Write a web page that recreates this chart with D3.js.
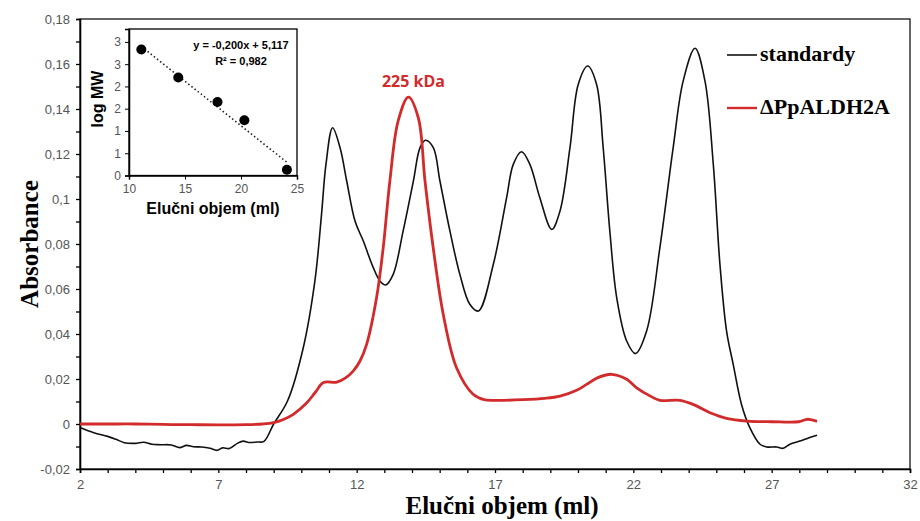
<!DOCTYPE html>
<html>
<head>
<meta charset="utf-8">
<script src="https://cdn.jsdelivr.net/npm/d3@7"></script>
<style>
body { margin: 0; background: #fff; }
svg { display: block; }
</style>
</head>
<body>
<div id="chart"></div>
<script>
// elution profile of the standards (black)
var stdVol = [2, 2.5, 3.0, 3.3, 3.6, 4.0, 4.3, 4.6, 4.9, 5.3, 5.6, 5.85, 6.1, 6.4, 6.7, 6.95, 7.15, 7.4, 7.7, 7.9, 8.1, 8.4, 8.65,
  9.0, 9.5, 10.07, 10.49, 10.73, 10.89, 11.13, 11.4, 11.64, 11.94, 12.24, 12.6, 12.84, 13.05, 13.32, 13.68, 14.05, 14.29, 14.49,
  14.77, 15.01, 15.37, 15.73, 16.09, 16.4, 16.94, 17.42, 17.66, 17.96, 18.26, 18.62, 19.05, 19.35, 19.71, 20.01, 20.35, 20.67,
  20.91, 21.15, 21.4, 21.76, 22.08, 22.48, 22.96, 23.44, 23.8, 24.23, 24.59, 24.89, 25.13, 25.37, 25.61, 25.91, 26.21, 26.58,
  26.82, 27.18, 27.42, 27.66, 28.02, 28.33, 28.64];
var stdAbs = [-0.0016, -0.0039, -0.0055, -0.0068, -0.0083, -0.0086, -0.0081, -0.009, -0.0092, -0.0093, -0.0105, -0.0095, -0.0101,
  -0.0102, -0.0108, -0.0117, -0.0106, -0.0109, -0.0085, -0.0076, -0.0082, -0.008, -0.0077,
  0.0, 0.0102, 0.0339, 0.0636, 0.0932, 0.1154, 0.1317, 0.1228, 0.108, 0.0902, 0.0813, 0.0695, 0.0636, 0.0618, 0.0665, 0.0858,
  0.108, 0.1228, 0.1261, 0.1228, 0.108, 0.0858, 0.0665, 0.0532, 0.0502, 0.071, 0.1006, 0.1154, 0.121, 0.1154, 0.1006, 0.0865,
  0.0947, 0.1228, 0.151, 0.1591, 0.151, 0.1228, 0.0858, 0.0561, 0.0369, 0.0313, 0.0413, 0.0784, 0.1228, 0.1524, 0.167, 0.1524,
  0.1154, 0.071, 0.0413, 0.0265, 0.0087, -0.0016, -0.009, -0.0102, -0.0102, -0.0108, -0.009, -0.0076, -0.0062, -0.005];

// elution profile of the sample (red)
var smpVol = [2, 3, 4, 5, 6, 7, 8, 8.6, 9.0, 9.35, 9.71, 10.19, 10.5, 10.8, 11.28, 11.6, 11.88, 12.12, 12.36, 12.72, 12.96, 13.2,
  13.5, 13.87, 14.23, 14.47, 14.77, 15.13, 15.61, 16.21, 16.6, 17, 18, 18.8, 19.35, 19.95, 20.31, 20.7, 21.21, 21.76, 22.12, 22.6,
  22.96, 23.68, 24.16, 24.77, 25.37, 26.1, 27.0, 27.98, 28.28, 28.45, 28.64];
var smpAbs = [0.0, 0.0, 0.0, -0.0002, -0.0003, -0.0004, -0.0003, 0.0, 0.0006, 0.002, 0.0043, 0.0093, 0.014, 0.0184, 0.0186, 0.0205,
  0.0236, 0.028, 0.0354, 0.0562, 0.0784, 0.108, 0.1347, 0.1453, 0.136, 0.108, 0.078, 0.0487, 0.025, 0.0132, 0.0108, 0.0105, 0.0108,
  0.0114, 0.0124, 0.015, 0.0176, 0.0205, 0.0221, 0.0199, 0.0161, 0.0125, 0.0105, 0.0105, 0.0087, 0.005, 0.0025, 0.0013, 0.001,
  0.001, 0.0021, 0.0018, 0.0012];

var xTicks = [2, 7, 12, 17, 22, 27, 32];
var yTicks = [-0.02, 0, 0.02, 0.04, 0.06, 0.08, 0.1, 0.12, 0.14, 0.16, 0.18];
var yTickLabels = ["-0,02", "0", "0,02", "0,04", "0,06", "0,08", "0,1", "0,12", "0,14", "0,16", "0,18"];

// calibration inset
var calVol = [11.1, 14.4, 17.9, 20.3, 24.1];
var calLogMW = [2.83, 2.20, 1.65, 1.24, 0.13];
var calSlope = -0.200, calIntercept = 5.117;
var calXTicks = [10, 15, 20, 25];
var calYTicks = [0, 0.5, 1, 1.5, 2, 2.5, 3];
var calYTickLabels = ["0", "1", "1", "2", "2", "3", "3"];

var seriesNames = ["standardy", "\u0394PpALDH2A"];
var seriesColors = ["#111111", "#d22b2b"];

var W = 920, H = 521;
var svg = d3.select("#chart").append("svg")
    .attr("width", W)
    .attr("height", H);

var x = d3.scaleLinear().domain([2, 32]).range([80, 910]);
var y = d3.scaleLinear().domain([-0.02, 0.18]).range([469, 19]);

var tickFont = "'Liberation Sans', Arial, sans-serif";
var serif = "'Liberation Serif', 'Times New Roman', serif";

// plot frame
svg.append("rect")
    .attr("x", x(2)).attr("y", y(0.18))
    .attr("width", x(32) - x(2)).attr("height", y(-0.02) - y(0.18))
    .attr("fill", "none").attr("stroke", "#000").attr("stroke-width", 1.2);

// x axis
var xAxis = svg.append("g")
    .attr("transform", "translate(0," + y(-0.02) + ")")
    .call(d3.axisBottom(x).tickValues(d3.range(2, 33, 1)).tickSize(4)
      .tickFormat(function(d){ return xTicks.indexOf(d) >= 0 ? d : ""; }));
xAxis.select(".domain").attr("stroke-width", 1.6);
xAxis.selectAll("line").attr("stroke-width", 1.3);
xAxis.selectAll("text").attr("font-family", tickFont).attr("font-size", 13)
    .attr("fill", "#555").attr("dy", "1.0em");

// y axis
var yAxis = svg.append("g")
    .attr("transform", "translate(" + x(2) + ",0)")
    .call(d3.axisLeft(y).tickValues(d3.range(-2, 19, 1).map(function(v){ return v / 100; })).tickSize(4)
      .tickFormat(function(d){
        var i = yTicks.findIndex(function(t){ return Math.abs(t - d) < 1e-9; });
        return i >= 0 ? yTickLabels[i] : "";
      }));
yAxis.select(".domain").attr("stroke-width", 1.6);
yAxis.selectAll("line").attr("stroke-width", 1.3);
yAxis.selectAll("text").attr("font-family", tickFont).attr("font-size", 13)
    .attr("fill", "#555").attr("x", -10);

// axis titles
svg.append("text")
    .attr("x", 502).attr("y", 514)
    .attr("text-anchor", "middle")
    .attr("font-family", serif).attr("font-weight", "bold").attr("font-size", 25)
    .text("Elu\u010dni objem (ml)");
svg.append("text")
    .attr("transform", "translate(38,244) rotate(-90)")
    .attr("text-anchor", "middle")
    .attr("font-family", serif).attr("font-weight", "bold").attr("font-size", 25)
    .text("Absorbance");

// curves
var line = d3.line()
    .x(function(d){ return x(d[0]); })
    .y(function(d){ return y(d[1]); })
    .curve(d3.curveCatmullRom.alpha(0.5));

svg.append("path")
    .datum(d3.zip(stdVol, stdAbs))
    .attr("d", line)
    .attr("fill", "none").attr("stroke", seriesColors[0]).attr("stroke-width", 1.6);

svg.append("path")
    .datum(d3.zip(smpVol, smpAbs))
    .attr("d", line)
    .attr("fill", "none").attr("stroke", seriesColors[1]).attr("stroke-width", 2.8);

// peak label
var peakI = d3.maxIndex(smpAbs);
svg.append("text")
    .attr("x", x(smpVol[peakI]) + 5).attr("y", y(smpAbs[peakI]) - 10)
    .attr("text-anchor", "middle")
    .attr("font-family", "'Open Sans', sans-serif").attr("font-weight", "bold").attr("font-size", 16)
    .attr("fill", seriesColors[1])
    .text("225 kDa");

// legend
var legend = svg.append("g").selectAll("g")
    .data(seriesNames)
    .enter().append("g")
    .attr("transform", function(d, i){ return "translate(727," + (55 + i * 53) + ")"; });
legend.append("line")
    .attr("x1", 0).attr("x2", 30)
    .attr("stroke", function(d, i){ return seriesColors[i]; })
    .attr("stroke-width", function(d, i){ return i ? 2.4 : 1.6; });
legend.append("text")
    .attr("x", 33).attr("y", 1)
    .attr("dominant-baseline", "middle")
    .attr("font-family", serif).attr("font-weight", "bold").attr("font-size", 22)
    .text(function(d){ return d; });

// inset calibration plot
var xi = d3.scaleLinear().domain([10, 25]).range([129, 297]);
var yi = d3.scaleLinear().domain([0, 3.29]).range([175.5, 29]);
var inset = svg.append("g");

inset.append("rect")
    .attr("x", xi(10)).attr("y", yi(3.29))
    .attr("width", xi(25) - xi(10)).attr("height", yi(0) - yi(3.29))
    .attr("fill", "#fff").attr("stroke", "#000").attr("stroke-width", 1.3);

var ixAxis = inset.append("g")
    .attr("transform", "translate(0," + yi(0) + ")")
    .call(d3.axisBottom(xi).tickValues(calXTicks).tickSize(4));
ixAxis.select(".domain").attr("stroke-width", 1.5);
ixAxis.selectAll("text").attr("font-family", tickFont).attr("font-size", 12)
    .attr("fill", "#555").attr("dy", "0.9em");

var iyAxis = inset.append("g")
    .attr("transform", "translate(" + xi(10) + ",0)")
    .call(d3.axisLeft(yi).tickValues(calYTicks).tickSize(4)
      .tickFormat(function(d, i){ return calYTickLabels[i]; }));
iyAxis.select(".domain").attr("stroke-width", 1.5);
iyAxis.selectAll("text").attr("font-family", tickFont).attr("font-size", 12)
    .attr("fill", "#555").attr("x", -8);

// trend line
var tx = d3.extent(calVol);
inset.append("line")
    .attr("x1", xi(tx[0])).attr("y1", yi(calSlope * tx[0] + calIntercept))
    .attr("x2", xi(tx[1])).attr("y2", yi(calSlope * tx[1] + calIntercept))
    .attr("stroke", "#222").attr("stroke-width", 1.6).attr("stroke-dasharray", "1.5,2.5");

inset.selectAll("circle")
    .data(d3.zip(calVol, calLogMW))
    .enter().append("circle")
    .attr("cx", function(d){ return xi(d[0]); })
    .attr("cy", function(d){ return yi(d[1]); })
    .attr("r", 5)
    .attr("fill", "#000");

inset.append("text")
    .attr("x", 241).attr("y", 49)
    .attr("text-anchor", "middle")
    .attr("font-family", tickFont).attr("font-weight", "bold").attr("font-size", 11)
    .text("y = -0,200x + 5,117");
inset.append("text")
    .attr("x", 241).attr("y", 65)
    .attr("text-anchor", "middle")
    .attr("font-family", tickFont).attr("font-weight", "bold").attr("font-size", 11)
    .text("R\u00b2 = 0,982");

inset.append("text")
    .attr("x", 213).attr("y", 214)
    .attr("text-anchor", "middle")
    .attr("font-family", tickFont).attr("font-weight", "bold").attr("font-size", 16)
    .text("Elu\u010dni objem (ml)");
inset.append("text")
    .attr("transform", "translate(103,99) rotate(-90)")
    .attr("text-anchor", "middle")
    .attr("font-family", tickFont).attr("font-weight", "bold").attr("font-size", 16)
    .text("log MW");
</script>
</body>
</html>
